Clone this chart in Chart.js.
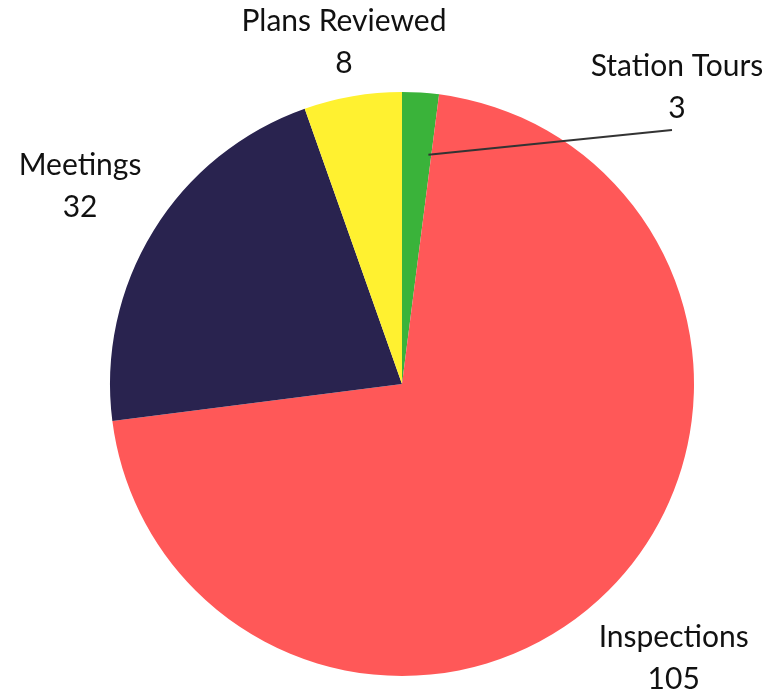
<!DOCTYPE html>
<html lang="en">
<head>
    <meta charset="UTF-8">
    <title>Activity Breakdown</title>
    <script src="https://cdn.jsdelivr.net/npm/chart.js"></script>
    <style>
        body {
            margin: 0;
            padding: 0;
            background-color: #ffffff;
        }

        .chart-container {
            position: relative;
            width: 783px;
            height: 694px;
        }
    </style>
</head>
<body>

<div class="chart-container">
    <canvas id="pieChart"></canvas>
</div>

<script>
    // Data
    const categories = ['Station Tours', 'Inspections', 'Meetings', 'Plans Reviewed'];
    const counts = [3, 105, 32, 8];
    const sliceColors = ['#3ab33a', '#ff5858', '#29234f', '#fff130'];

    // Labels drawn outside the pie, with a leader line for the small slice
    const outsideLabels = {
        id: 'outsideLabels',
        afterDatasetsDraw(chart, args, opts) {
            const ctx = chart.ctx;
            const arcs = chart.getDatasetMeta(0).data;
            ctx.save();
            ctx.font = opts.font;
            ctx.fillStyle = opts.color;
            ctx.textAlign = 'center';
            ctx.textBaseline = 'middle';

            arcs.forEach((arc, i) => {
                const { x, y, startAngle, endAngle, outerRadius } = arc.getProps(['x', 'y', 'startAngle', 'endAngle', 'outerRadius'], true);
                const mid = (startAngle + endAngle) / 2;
                const ux = Math.cos(mid);
                const uy = Math.sin(mid);
                const lines = [chart.data.labels[i], String(chart.data.datasets[0].data[i])];
                const w = Math.max(...lines.map(t => ctx.measureText(t).width));
                const h = opts.lineHeight * lines.length;

                let cx, cy;
                const moved = opts.moved[i];
                if (moved) {
                    cx = x + moved.dx;
                    cy = y + moved.dy;
                    // leader line from inside the slice to under the value
                    const a = startAngle + (endAngle - startAngle) * 0.9;
                    ctx.beginPath();
                    ctx.strokeStyle = '#333333';
                    ctx.lineWidth = 2;
                    ctx.moveTo(x + Math.cos(a) * outerRadius * 0.79, y + Math.sin(a) * outerRadius * 0.79);
                    ctx.lineTo(cx - 5, cy + h / 2 + 1);
                    ctx.stroke();
                } else {
                    const r = outerRadius + opts.gap;
                    const n = opts.nudge[i] || { dx: 0, dy: 0 };
                    cx = x + ux * r + ux * w / 2 + n.dx;
                    cy = y + uy * r + uy * h / 2 + n.dy;
                }

                lines.forEach((t, k) => {
                    ctx.fillText(t, cx, cy - h / 2 + opts.lineHeight * (k + 0.5));
                });
            });
            ctx.restore();
        }
    };

    const ctx = document.getElementById('pieChart').getContext('2d');
    new Chart(ctx, {
        type: 'pie',
        data: {
            labels: categories,
            datasets: [{
                data: counts,
                backgroundColor: sliceColors,
                borderWidth: 0
            }]
        },
        options: {
            responsive: true,
            maintainAspectRatio: false,
            animation: false,
            layout: {
                padding: { top: 92, bottom: 18, left: 110, right: 89 }
            },
            plugins: {
                legend: { display: false },
                tooltip: { enabled: false },
                outsideLabels: {
                    font: '30px Lato',
                    color: '#111111',
                    lineHeight: 42,
                    gap: 20,
                    moved: { 0: { dx: 275, dy: -297 } },
                    nudge: { 1: { dx: -2, dy: 24 }, 2: { dx: -4, dy: -12 }, 3: { dx: 12, dy: 7 } }
                }
            }
        },
        plugins: [outsideLabels]
    });
</script>
</body>
</html>
